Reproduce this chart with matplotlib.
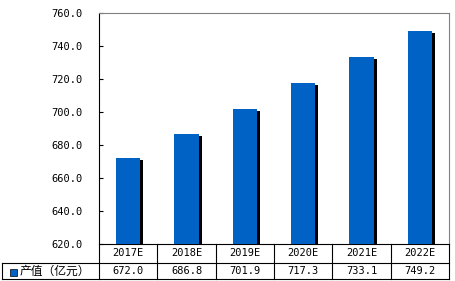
import matplotlib.pyplot as plt
import matplotlib.patches as mpatches

plt.rcParams['font.family'] = ['Noto Sans CJK SC', 'DejaVu Sans']

years = ["2017E", "2018E", "2019E", "2020E", "2021E", "2022E"]
values = [672.0, 686.8, 701.9, 717.3, 733.1, 749.2]
series_name = "产值（亿元）"
yticks = [620, 640, 660, 680, 700, 720, 740, 760]

W, H = 455, 281
fig = plt.figure(figsize=(W / 100, H / 100), dpi=100)
x0, x1, y_top, y_bot = 99, 449, 13, 244
ax = fig.add_axes([x0 / W, 1 - y_bot / H, (x1 - x0) / W, (y_bot - y_top) / H])

blue = "#0062c4"
mono = "DejaVu Sans Mono"
xs = range(len(years))
bw = 0.42
# 阴影柱：向右下偏移一点
ax.bar([x + 0.05 for x in xs], [v - 620 - 1.2 for v in values], width=bw, bottom=620,
       color="black", zorder=2)
ax.bar(xs, [v - 620 for v in values], width=bw, bottom=620, color=blue, zorder=3)

ax.set_xlim(-0.5, len(years) - 0.5)
ax.set_ylim(620, 760)
ax.set_yticks(yticks)
ax.set_yticklabels(["%.1f" % t for t in yticks], fontsize=7.5, family=mono)
ax.tick_params(axis='y', direction='in', length=3, pad=12)
ax.set_xticks([])
for s in ["top", "right"]:
    ax.spines[s].set_color("#808080")
ax.spines["left"].set_color("black")
ax.spines["bottom"].set_color("black")

# 底部数据表
row1 = 263
row2 = 279
left = 2
cw = (x1 - x0) / len(years)

def fx(px):
    return px / W

def fy(py):
    return 1 - py / H

lw = 0.8
fig.add_artist(plt.Line2D([fx(x0), fx(x1)], [fy(row1), fy(row1)], color="black", lw=lw))
fig.add_artist(plt.Line2D([fx(left), fx(x0)], [fy(row1), fy(row1)], color="black", lw=lw))
fig.add_artist(plt.Line2D([fx(left), fx(x1)], [fy(row2), fy(row2)], color="black", lw=lw))
fig.add_artist(plt.Line2D([fx(left), fx(left)], [fy(row1), fy(row2)], color="black", lw=lw))
fig.add_artist(plt.Line2D([fx(x0), fx(x0)], [fy(y_bot), fy(row2)], color="black", lw=lw))
for i in range(1, len(years) + 1):
    xp = x0 + i * cw
    fig.add_artist(plt.Line2D([fx(xp), fx(xp)], [fy(y_bot), fy(row2)],
                              color="black", lw=lw))

for i, (yr, v) in enumerate(zip(years, values)):
    cx = x0 + (i + 0.5) * cw
    fig.text(fx(cx), fy((y_bot + row1) / 2), yr, fontsize=7.5,
             ha="center", va="center", family=mono)
    fig.text(fx(cx), fy((row1 + row2) / 2), "%.1f" % v, fontsize=7.5,
             ha="center", va="center", family=mono)

fig.add_artist(mpatches.Rectangle((fx(10), fy(276)), 7 / W, 7 / H,
                                  facecolor=blue, edgecolor="black", lw=0.5))
fig.text(fx(20), fy((row1 + row2) / 2), series_name, fontsize=8.5,
         ha="left", va="center")

fig.savefig("out.png", dpi=100)
